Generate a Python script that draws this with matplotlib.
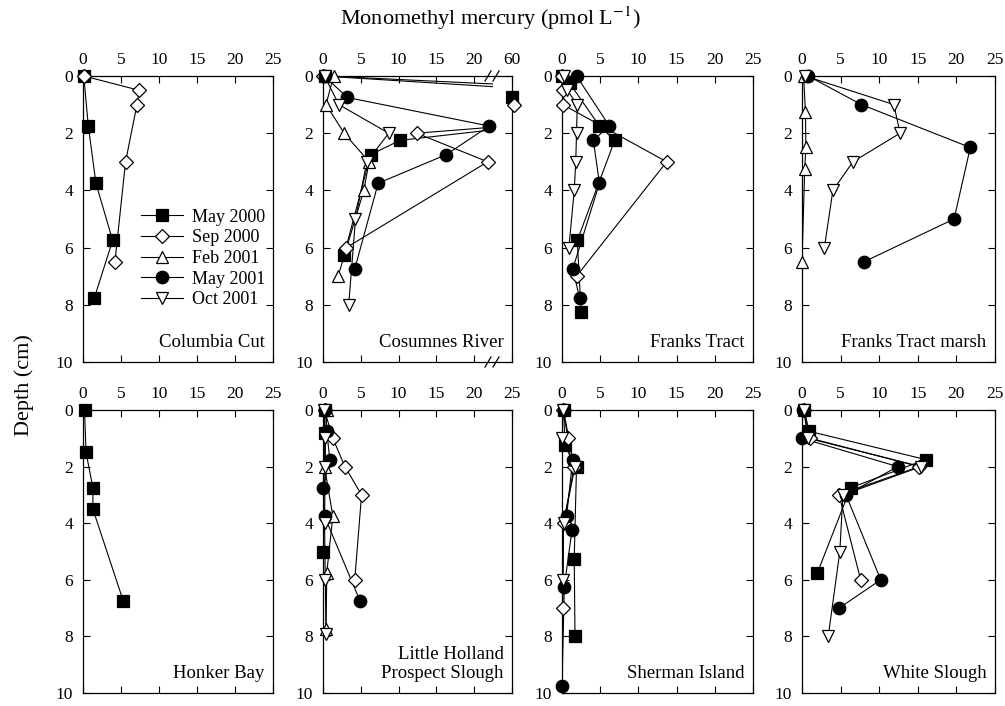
import matplotlib
matplotlib.use("Agg")
import matplotlib.pyplot as plt
from matplotlib.lines import Line2D

plt.rcParams["font.family"] = ["Liberation Serif", "DejaVu Serif"]
plt.rcParams["mathtext.fontset"] = "stix"

# ---- sampling campaigns -------------------------------------------------
series_names = ["May 2000", "Sep 2000", "Feb 2001", "May 2001", "Oct 2001"]
series_markers = ["s", "D", "^", "o", "v"]
series_faces = ["black", "white", "white", "black", "white"]
series_sizes = [8, 7, 8, 9, 8]

x_ticks = [0, 5, 10, 15, 20, 25]
y_ticks = [0, 2, 4, 6, 8, 10]

# ---- Columbia Cut ----
cc_may00_depth = [0, 1.75, 3.75, 5.75, 7.75]
cc_may00_mmhg = [0.1, 0.7, 1.7, 3.9, 1.5]
cc_sep00_depth = [0, 0.5, 1.0, 3.0, 6.5]
cc_sep00_mmhg = [0.1, 7.4, 7.1, 5.6, 4.2]

# ---- Cosumnes River (two values near 60 sit beyond the axis break) ----
cr_may00_depth = [0, 0.75, 2.25, 2.75, 6.25]
cr_may00_mmhg = [0.3, 60.0, 10.2, 6.3, 2.8]
cr_sep00_depth = [0, 1.0, 2.0, 3.0, 6.0]
cr_sep00_mmhg = [0.0, 60.3, 12.4, 21.8, 3.1]
cr_feb01_depth = [0, 1.0, 2.0, 3.0, 4.0, 7.0]
cr_feb01_mmhg = [1.4, 0.4, 2.8, 6.1, 5.4, 2.0]
cr_may01_depth = [0, 0.75, 1.75, 2.75, 3.75, 6.75]
cr_may01_mmhg = [0.2, 3.2, 22.0, 16.3, 7.3, 4.2]
cr_oct01_depth = [0, 1.0, 2.0, 3.0, 5.0, 8.0]
cr_oct01_mmhg = [0.2, 2.1, 8.7, 5.8, 4.3, 3.4]

# ---- Franks Tract ----
ft_may00_depth = [0, 0.25, 1.75, 2.25, 5.75, 8.25]
ft_may00_mmhg = [0.0, 1.0, 4.9, 6.9, 2.0, 2.5]
ft_sep00_depth = [0, 0.5, 1.0, 3.0, 7.0]
ft_sep00_mmhg = [0.0, 0.1, 0.1, 13.7, 1.9]
ft_may01_depth = [0, 1.75, 2.25, 3.75, 6.75, 7.75]
ft_may01_mmhg = [1.9, 6.2, 4.1, 4.9, 1.4, 2.3]
ft_oct01_depth = [0, 0.5, 1.0, 2.0, 3.0, 4.0, 6.0]
ft_oct01_mmhg = [0.3, 0.7, 2.0, 1.9, 1.8, 1.6, 0.9]

# ---- Franks Tract marsh ----
fm_feb01_depth = [0, 1.25, 2.5, 3.25, 6.5]
fm_feb01_mmhg = [0.2, 0.45, 0.5, 0.35, 0.0]
fm_may01_depth = [0, 1.0, 2.5, 5.0, 6.5]
fm_may01_mmhg = [0.8, 7.7, 21.8, 19.7, 8.0]
fm_oct01_depth = [0, 1.0, 2.0, 3.0, 4.0, 6.0]
fm_oct01_mmhg = [0.4, 11.9, 12.7, 6.6, 4.0, 2.9]

# ---- Honker Bay ----
hb_may00_depth = [0, 1.5, 2.75, 3.5, 6.75]
hb_may00_mmhg = [0.2, 0.4, 1.3, 1.3, 5.3]

# ---- Little Holland / Prospect Slough ----
lh_may00_depth = [0, 0.8, 5.0]
lh_may00_mmhg = [0.2, 0.2, 0.0]
lh_sep00_depth = [0, 1.0, 2.0, 3.0, 6.0]
lh_sep00_mmhg = [0.2, 1.3, 2.9, 5.1, 4.2]
lh_feb01_depth = [0, 2.0, 3.75, 5.75, 7.75]
lh_feb01_mmhg = [0.5, 0.2, 1.3, 0.5, 0.4]
lh_may01_depth = [0, 0.75, 1.75, 2.75, 3.75, 6.75]
lh_may01_mmhg = [0.3, 0.5, 0.9, 0.0, 0.2, 4.9]
lh_oct01_depth = [0, 1.0, 2.0, 4.0, 6.0, 7.9]
lh_oct01_mmhg = [0.1, 0.3, 0.3, 0.2, 0.3, 0.4]

# ---- Sherman Island ----
si_may00_depth = [0, 1.25, 2.0, 5.25, 8.0]
si_may00_mmhg = [0.2, 0.4, 1.9, 1.6, 1.7]
si_sep00_depth = [0, 1.0, 2.0, 4.0, 7.0]
si_sep00_mmhg = [0.1, 0.8, 1.6, 0.2, 0.1]
si_may01_depth = [0, 1.75, 3.75, 4.25, 6.25, 9.75]
si_may01_mmhg = [0.2, 1.4, 0.6, 1.3, 0.3, 0.0]
si_oct01_depth = [0, 1.0, 2.0, 4.0, 6.0]
si_oct01_mmhg = [0.1, 0.0, 1.7, 0.2, 0.1]

# ---- White Slough ----
ws_may00_depth = [0, 0.75, 1.75, 2.75, 5.75]
ws_may00_mmhg = [0.3, 0.9, 16.0, 6.3, 2.0]
ws_sep00_depth = [0, 1.0, 2.0, 3.0, 6.0]
ws_sep00_mmhg = [0.2, 1.1, 15.2, 4.8, 7.6]
ws_may01_depth = [0, 1.0, 2.0, 3.0, 6.0, 7.0]
ws_may01_mmhg = [0.1, 0.0, 12.4, 5.7, 10.2, 4.8]
ws_oct01_depth = [0, 1.0, 2.0, 3.0, 5.0, 8.0]
ws_oct01_mmhg = [0.2, 0.8, 15.4, 5.3, 4.9, 3.4]

sites = [
    ("Columbia Cut", {"May 2000": (cc_may00_depth, cc_may00_mmhg),
                      "Sep 2000": (cc_sep00_depth, cc_sep00_mmhg)}),
    ("Cosumnes River", {"May 2000": (cr_may00_depth, cr_may00_mmhg),
                        "Sep 2000": (cr_sep00_depth, cr_sep00_mmhg),
                        "Feb 2001": (cr_feb01_depth, cr_feb01_mmhg),
                        "May 2001": (cr_may01_depth, cr_may01_mmhg),
                        "Oct 2001": (cr_oct01_depth, cr_oct01_mmhg)}),
    ("Franks Tract", {"May 2000": (ft_may00_depth, ft_may00_mmhg),
                      "Sep 2000": (ft_sep00_depth, ft_sep00_mmhg),
                      "May 2001": (ft_may01_depth, ft_may01_mmhg),
                      "Oct 2001": (ft_oct01_depth, ft_oct01_mmhg)}),
    ("Franks Tract marsh", {"Feb 2001": (fm_feb01_depth, fm_feb01_mmhg),
                            "May 2001": (fm_may01_depth, fm_may01_mmhg),
                            "Oct 2001": (fm_oct01_depth, fm_oct01_mmhg)}),
    ("Honker Bay", {"May 2000": (hb_may00_depth, hb_may00_mmhg)}),
    ("Little Holland\nProspect Slough", {"May 2000": (lh_may00_depth, lh_may00_mmhg),
                                         "Sep 2000": (lh_sep00_depth, lh_sep00_mmhg),
                                         "Feb 2001": (lh_feb01_depth, lh_feb01_mmhg),
                                         "May 2001": (lh_may01_depth, lh_may01_mmhg),
                                         "Oct 2001": (lh_oct01_depth, lh_oct01_mmhg)}),
    ("Sherman Island", {"May 2000": (si_may00_depth, si_may00_mmhg),
                        "Sep 2000": (si_sep00_depth, si_sep00_mmhg),
                        "May 2001": (si_may01_depth, si_may01_mmhg),
                        "Oct 2001": (si_oct01_depth, si_oct01_mmhg)}),
    ("White Slough", {"May 2000": (ws_may00_depth, ws_may00_mmhg),
                      "Sep 2000": (ws_sep00_depth, ws_sep00_mmhg),
                      "May 2001": (ws_may01_depth, ws_may01_mmhg),
                      "Oct 2001": (ws_oct01_depth, ws_oct01_mmhg)}),
]

TICK_FS = 12.5
LABEL_FS = 13
LW = 0.8

W, H = 1005, 706
fig = plt.figure(figsize=(W / 100, H / 100), dpi=100)


def px_axes(x0, y0, x1, y1):
    """Axes from pixel box (left, top, right, bottom)."""
    return fig.add_axes([x0 / W, 1 - y1 / H, (x1 - x0) / W, (y1 - y0) / H])


def style(ax, xlim, xticks, left=True, right=True):
    ax.set_xlim(*xlim)
    ax.set_ylim(10, 0)
    ax.xaxis.set_ticks_position("top")
    ax.set_xticks(xticks)
    ax.set_yticks(y_ticks)
    ax.tick_params(axis="both", direction="in", length=5, width=0.8,
                   labelsize=TICK_FS, top=True, bottom=True,
                   left=left, right=right, labelleft=left,
                   labeltop=True, labelbottom=False)
    ax.tick_params(axis="x", pad=6)
    ax.tick_params(axis="y", pad=7)
    for sp in ax.spines.values():
        sp.set_linewidth(0.9)
    ax.patch.set_alpha(0)


def draw(ax, profiles, xmin, xmax, lines=True):
    for name, marker, face, ms in zip(series_names, series_markers,
                                      series_faces, series_sizes):
        if name not in profiles:
            continue
        depth, vals = profiles[name]
        if lines:
            ax.plot(vals, depth, color="black", lw=LW, zorder=2, clip_on=True)
        keep = [(v, d) for v, d in zip(vals, depth) if xmin - 1 <= v <= xmax + 1]
        if keep:
            vx, dy = zip(*keep)
            ax.plot(vx, dy, ls="none", marker=marker, ms=ms, mfc=face,
                    mec="black", mew=0.9, zorder=3, clip_on=False)


col_x = [(83, 273), (323, 512), (562, 753), (802, 995)]
row_y = [(76, 362), (410, 693)]

axes = []
for i, (label, profiles) in enumerate(sites):
    r, c = divmod(i, 4)
    x0, x1 = col_x[c]
    y0, y1 = row_y[r]
    if label == "Cosumnes River":
        xb = 493
        axl = px_axes(x0, y0, xb, y1)
        style(axl, (0, 22.5), [0, 5, 10, 15, 20], right=False)
        axl.spines["right"].set_visible(False)
        draw(axl, profiles, 0, 22.5)
        axr = px_axes(xb, y0, x1, y1)
        style(axr, (57.5, 60), [60], left=False)
        axr.spines["left"].set_visible(False)
        draw(axr, profiles, 57.5, 60.6, lines=False)
        # break marks on top and bottom spines
        for yy in (y0, y1):
            for dx in (-5, 3):
                fig.add_artist(Line2D([(xb + dx - 3) / W, (xb + dx + 3) / W],
                                      [1 - (yy + 5) / H, 1 - (yy - 5) / H],
                                      color="black", lw=0.9))
        ax = axl
        axl.text((x1 - 8 - x0) / (xb - x0), 0.04, label, transform=axl.transAxes,
                 ha="right", va="bottom", fontsize=LABEL_FS + 0.5, zorder=5)
    else:
        ax = px_axes(x0, y0, x1, y1)
        style(ax, (0, 25), x_ticks)
        draw(ax, profiles, 0, 25)
        ax.text(0.955, 0.04, label, transform=ax.transAxes, ha="right",
                va="bottom", fontsize=LABEL_FS + 0.5, linespacing=1.1, zorder=5)
    axes.append(ax)

# legend in the first panel
handles = [Line2D([], [], color="black", lw=LW, marker=m, ms=s, mfc=f,
                  mec="black", mew=0.9)
           for m, f, s in zip(series_markers, series_faces, series_sizes)]
axes[0].legend(handles, series_names, loc="upper left",
               bbox_to_anchor=(0.24, 0.58), frameon=False,
               fontsize=LABEL_FS, handlelength=2.3, handletextpad=0.5,
               labelspacing=0.2, borderpad=0.2)

fig.text(490 / W, 1 - 18 / H, "Monomethyl mercury (pmol L$^{-1}$)",
         ha="center", va="center", fontsize=16)
fig.text(24 / W, 1 - 385 / H, "Depth (cm)", rotation=90,
         ha="center", va="center", fontsize=16)

fig.savefig("out.png", dpi=100)
